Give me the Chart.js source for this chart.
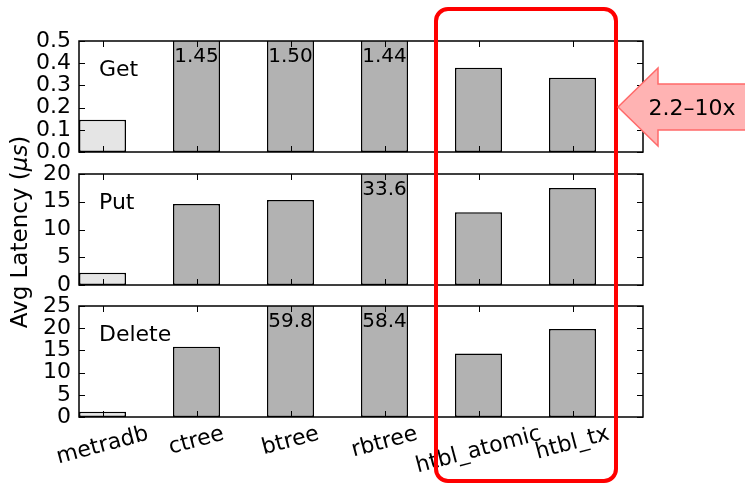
<!DOCTYPE html>
<html>
<head>
<meta charset="utf-8">
<script src="https://cdn.jsdelivr.net/npm/chart.js@4/dist/chart.umd.min.js"></script>
<style>
    html, body { margin: 0; padding: 0; background: #fff; }
    body { width: 745px; height: 485px; position: relative; overflow: hidden; font-family: 'DejaVu Sans', sans-serif; }
    canvas { position: absolute; left: 0; }
    #yTitle {
        position: absolute; left: 19px; top: 232px;
        transform: translate(-50%, -50%) rotate(-90deg);
        font-size: 23px; white-space: nowrap; color: #000;
    }
    #overlay { position: absolute; left: 0; top: 0; pointer-events: none; }
</style>
</head>
<body>
<canvas id="getChart" width="745" height="161" style="top:16px"></canvas>
<canvas id="putChart" width="745" height="161" style="top:149px"></canvas>
<canvas id="deleteChart" width="745" height="204" style="top:281px"></canvas>
<div id="yTitle">Avg Latency (<i>μs</i>)</div>
<svg id="overlay" width="745" height="485">
    <rect x="436" y="9" width="180" height="472" rx="12" ry="12" fill="none" stroke="#ff0000" stroke-width="4"/>
    <polygon points="618,107 658,68 658,84 746,84 746,130 658,130 658,146"
             fill="#ffb3b3" stroke="#ff6a6a" stroke-width="1.5"/>
    <text x="692" y="115" text-anchor="middle" font-family="DejaVu Sans" font-size="22" fill="#000">2.2–10x</text>
</svg>
<script>
// data
const categories = ['metradb', 'ctree', 'btree', 'rbtree', 'htbl_atomic', 'htbl_tx'];
const getLatency = [0.145, 1.45, 1.50, 1.44, 0.38, 0.334];
const putLatency = [2.2, 14.6, 15.3, 33.6, 13.1, 17.5];
const deleteLatency = [1.2, 15.8, 59.8, 58.4, 14.3, 19.8];
const getTicks = [0, 0.1, 0.2, 0.3, 0.4, 0.5];
const putTicks = [0, 5, 10, 15, 20];
const deleteTicks = [0, 5, 10, 15, 20, 25];

const FONT = "'DejaVu Sans', sans-serif";

const framePlugin = {
    id: 'frame',
    afterDatasetsDraw(chart, args, opts) {
        const { ctx, chartArea: a, scales: { x, y } } = chart;
        ctx.save();

        // inward tick marks on all four sides
        ctx.strokeStyle = '#000';
        ctx.lineWidth = 1;
        ctx.beginPath();
        x.ticks.forEach(t => {
            const px = Math.round(x.getPixelForValue(t.value)) + 0.5;
            ctx.moveTo(px, a.bottom); ctx.lineTo(px, a.bottom - 6);
            ctx.moveTo(px, a.top); ctx.lineTo(px, a.top + 6);
        });
        y.ticks.forEach(t => {
            const py = Math.round(y.getPixelForValue(t.value)) + 0.5;
            ctx.moveTo(a.left, py); ctx.lineTo(a.left + 6, py);
            ctx.moveTo(a.right, py); ctx.lineTo(a.right - 6, py);
        });
        ctx.stroke();

        ctx.lineWidth = 1.5;
        ctx.strokeRect(a.left, a.top, a.right - a.left, a.bottom - a.top);

        // values of bars that run off the top
        ctx.fillStyle = '#000';
        ctx.font = '20px ' + FONT;
        ctx.textAlign = 'center';
        ctx.textBaseline = 'middle';
        const meta = chart.getDatasetMeta(0);
        chart.data.datasets[0].data.forEach((d, i) => {
            if (d.y > y.max) {
                ctx.fillText(d.y.toFixed(opts.decimals), meta.data[i].x, a.top + 16);
            }
        });

        // panel name
        ctx.font = '22px ' + FONT;
        ctx.textAlign = 'left';
        ctx.fillText(opts.title, a.left + 20, a.top + 29);

        // category labels under the last panel
        if (opts.showLabels) {
            const ang = 15 * Math.PI / 180;
            ctx.font = '22px ' + FONT;
            categories.forEach((c, i) => {
                const px = x.getPixelForValue(i + 0.25);
                const w = ctx.measureText(c).width;
                const h = 20;
                const boxH = w * Math.sin(ang) + h * Math.cos(ang);
                ctx.save();
                ctx.translate(px, a.bottom + 7 + boxH / 2);
                ctx.rotate(-ang);
                ctx.textAlign = 'center';
                ctx.fillText(c, 0, 0);
                ctx.restore();
            });
        }
        ctx.restore();
    }
};

function makePanel(canvasId, title, values, ticks, tickDigits, valueDigits, showLabels) {
    const canvas = document.getElementById(canvasId);
    const padBottom = canvas.height - 25 - 111;
    return new Chart(canvas, {
        type: 'bar',
        data: {
            datasets: [{
                data: values.map((v, i) => ({ x: i + 0.25, y: v })),
                backgroundColor: categories.map((c, i) => i === 0 ? '#e5e5e5' : '#b2b2b2'),
                borderColor: '#000',
                borderWidth: 1.5,
                borderSkipped: false,
                categoryPercentage: 1,
                barPercentage: 0.5
            }]
        },
        options: {
            responsive: false,
            animation: false,
            events: [],
            layout: { padding: { left: 0, right: 102, top: 25, bottom: padBottom } },
            plugins: {
                legend: { display: false },
                tooltip: { enabled: false },
                frame: { title: title, decimals: valueDigits, showLabels: showLabels }
            },
            scales: {
                x: {
                    type: 'linear',
                    min: 0,
                    max: 6,
                    offset: false,
                    grid: { display: false, drawTicks: false, offset: false },
                    border: { display: false },
                    ticks: { display: false },
                    afterBuildTicks: s => { s.ticks = categories.map((c, i) => ({ value: i + 0.25 })); },
                    afterFit: s => { s.height = 0; }
                },
                y: {
                    min: ticks[0],
                    max: ticks[ticks.length - 1],
                    grid: { display: false, drawTicks: false },
                    border: { display: false },
                    afterBuildTicks: s => { s.ticks = ticks.map(v => ({ value: v })); },
                    afterFit: s => { s.width = 79; },
                    ticks: {
                        autoSkip: false,
                        padding: 8,
                        color: '#000',
                        font: { family: FONT, size: 22, lineHeight: 1 },
                        callback: v => v.toFixed(tickDigits)
                    }
                }
            }
        },
        plugins: [framePlugin]
    });
}

makePanel('getChart', 'Get', getLatency, getTicks, 1, 2, false);
makePanel('putChart', 'Put', putLatency, putTicks, 0, 1, false);
makePanel('deleteChart', 'Delete', deleteLatency, deleteTicks, 0, 1, true);
</script>
</body>
</html>
